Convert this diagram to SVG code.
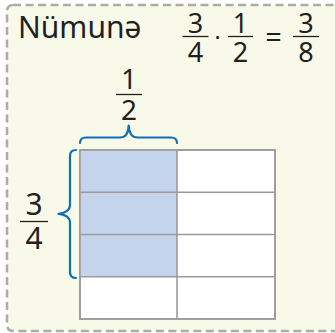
<svg xmlns="http://www.w3.org/2000/svg" width="335" height="333" viewBox="0 0 335 333">
<defs>
<style>
.t{font-family:"Noto Sans","Open Sans","DejaVu Sans",sans-serif;fill:#231f20;}
.m{text-anchor:middle;}
.f{font-size:27px;}
.bar{stroke:#231f20;stroke-width:1.3;}
.brace{fill:none;stroke:#0f6fb7;stroke-width:2.2;stroke-linecap:round;stroke-linejoin:round;}
.cell{fill:#ffffff;stroke:#9b9b9b;stroke-width:1.6;}
.sh{fill:#c3d4ec;}
</style>
</defs>
<rect x="7" y="5" width="340" height="326" rx="6" fill="#f9f9ea" stroke="#ababab" stroke-width="2.5" stroke-dasharray="8 4.5"/>
<g id="title">
<text class="t" x="18" y="38" font-size="30">Nümunə</text>
</g>
<g id="equation">
<text class="t m f" x="195.5" y="33">3</text>
<line class="bar" x1="182.5" y1="36.5" x2="208.5" y2="36.5"/>
<text class="t m f" x="195.5" y="61.5">4</text>
<text class="t m" x="217.5" y="46" font-size="23">·</text>
<text class="t m f" x="240.5" y="33">1</text>
<line class="bar" x1="228" y1="36.5" x2="253" y2="36.5"/>
<text class="t m f" x="240.5" y="61.5">2</text>
<text class="t m" x="273.5" y="47" font-size="29">=</text>
<text class="t m f" x="306" y="33">3</text>
<line class="bar" x1="293" y1="36.5" x2="319" y2="36.5"/>
<text class="t m f" x="306" y="61.5">8</text>
</g>
<g id="grid">
<rect class="cell" x="80" y="150" width="195" height="169"/>
<rect class="sh" x="80" y="150" width="97" height="126.75"/>
<g stroke="#9b9b9b" stroke-width="1.6" fill="none">
<rect x="80" y="150" width="195" height="169"/>
<line x1="177" y1="150" x2="177" y2="319"/>
<line x1="80" y1="192.25" x2="275" y2="192.25"/>
<line x1="80" y1="234.5" x2="275" y2="234.5"/>
<line x1="80" y1="276.75" x2="275" y2="276.75"/>
</g>
</g>
<g id="connectors">
<path class="brace" d="M80,143 Q80,137.5 86,137.5 L120,137.5 C126,137.5 128.5,132 128.7,125.5 C129,132 131.5,137.5 137.5,137.5 L171,137.5 Q177,137.5 177,143"/>
<path class="brace" d="M76,150 Q70,150 70,156 L70,205 C70,210 65,213.5 58.5,213.8 C65,214 70,217.5 70,222.5 L70,272 Q70,278 76,278"/>
</g>
<g id="label-half">
<text class="t m" x="129" y="89" font-size="28">1</text>
<line class="bar" x1="116" y1="94.5" x2="142" y2="94.5"/>
<text class="t m" x="129" y="119.5" font-size="28">2</text>
</g>
<g id="label-threequarters">
<text class="t m" x="34" y="215" font-size="30">3</text>
<line class="bar" x1="20" y1="221.5" x2="48" y2="221.5"/>
<text class="t m" x="34" y="248.5" font-size="30">4</text>
</g>
</svg>
